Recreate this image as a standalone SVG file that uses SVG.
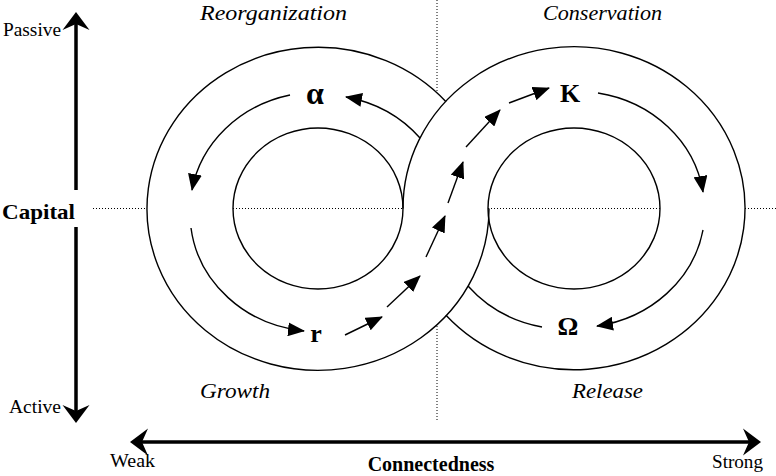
<svg xmlns="http://www.w3.org/2000/svg" width="776" height="476" viewBox="0 0 776 476">
<style>
  .ring { fill: none; stroke: #000; stroke-width: 1.4; }
  .flow { fill: none; stroke: #000; stroke-width: 1.4; marker-end: url(#ah); }
  .dot { fill: none; stroke: #000; stroke-width: 1; stroke-dasharray: 1 2; }
  .axis { fill: none; stroke: #000; stroke-width: 3.5; }
  .head { fill: #000; stroke: none; }
  .t { font-family: "Liberation Serif", "Times New Roman", serif; fill: #000; }
  .reg { font-size: 18px; }
  .ital { font-size: 20px; font-style: italic; }
  .bold { font-weight: bold; }
  .sym { font-family: "Liberation Serif", "DejaVu Serif", serif; font-weight: bold; font-size: 26px; text-anchor: middle; }
</style>
<defs>
  <marker id="ah" markerUnits="userSpaceOnUse" markerWidth="17" markerHeight="14" viewBox="0 0 17 14" refX="16" refY="7" orient="auto">
    <path d="M0,0 L17,7 L0,14 z" fill="#000"/>
  </marker>
  <path id="axhead" d="M0,0 L-18,-13.5 L-12,0 L-18,13.5 z"/>
</defs>
<rect width="776" height="476" fill="#fff"/>

<g id="guides">
  <path class="dot" d="M93,208.5 H147 M233,208.5 H403 M488,208.5 H660 M745,208.5 H776"/>
  <path class="dot" d="M437,0 V93 M437,326 V420"/>
</g>

<g id="loop-left">
  <path class="ring" d="M489,208.5 A171,161.5 0 1 1 446,101.7"/>
  <ellipse class="ring" cx="318" cy="208.5" rx="85" ry="80.5"/>
</g>
<g id="loop-right">
  <path class="ring" d="M403,208.5 A171,161.5 0 1 1 446,315.3"/>
  <ellipse class="ring" cx="574" cy="208.5" rx="86" ry="80.5"/>
</g>

<g id="connectors">
  <path class="flow" d="M420,138 A128,118 0 0 0 346,97"/>
  <path class="flow" d="M290,95 A128,118 0 0 0 192,190"/>
  <path class="flow" d="M191,228 A128,118 0 0 0 304,331"/>
  <path class="flow" d="M345,335 L382,317"/>
  <path class="flow" d="M387,307 L420,276"/>
  <path class="flow" d="M426,257 L445,216"/>
  <path class="flow" d="M448,203 L463,162"/>
  <path class="flow" d="M466,147 L500,110"/>
  <path class="flow" d="M509,103 L549,88"/>
  <path class="flow" d="M598,93 A128,118 0 0 1 703,192"/>
  <path class="flow" d="M703,230 A128,118 0 0 1 597,326"/>
  <path class="ring" d="M542,327 A128,118 0 0 1 468,286"/>
</g>

<g id="phase-symbols">
  <text id="alpha" class="t sym" x="315" y="104" style="font-size:32px">α</text>
  <text id="K" class="t sym" x="570" y="102">K</text>
  <text id="r" class="t sym" x="316" y="342">r</text>
  <text id="omega" class="t sym" x="568" y="335">Ω</text>
</g>

<g id="phase-labels">
  <text class="t ital" x="200" y="20" textLength="147" lengthAdjust="spacingAndGlyphs">Reorganization</text>
  <text class="t ital" x="543" y="20" textLength="119" lengthAdjust="spacingAndGlyphs">Conservation</text>
  <text class="t ital" x="200" y="398" textLength="70" lengthAdjust="spacingAndGlyphs">Growth</text>
  <text class="t ital" x="572" y="398" textLength="71" lengthAdjust="spacingAndGlyphs">Release</text>
</g>

<g id="axis-capital">
  <path class="axis" d="M76,24 V190 M76,227 V411"/>
  <use href="#axhead" class="head" transform="translate(76,12) rotate(-90)"/>
  <use href="#axhead" class="head" transform="translate(76,423) rotate(90)"/>
  <text class="t reg" x="3" y="36" textLength="58" lengthAdjust="spacingAndGlyphs">Passive</text>
  <text class="t reg" x="9" y="413" textLength="52" lengthAdjust="spacingAndGlyphs">Active</text>
  <text class="t bold" x="2" y="219" style="font-size:22px" textLength="73" lengthAdjust="spacingAndGlyphs">Capital</text>
</g>

<g id="axis-connectedness">
  <path class="axis" d="M142,442 H749"/>
  <use href="#axhead" class="head" transform="translate(130,442) rotate(180)"/>
  <use href="#axhead" class="head" transform="translate(761,442)"/>
  <text class="t reg" x="110" y="467" textLength="45" lengthAdjust="spacingAndGlyphs">Weak</text>
  <text class="t reg" x="712" y="468" textLength="51" lengthAdjust="spacingAndGlyphs">Strong</text>
  <text class="t bold" x="431" y="471" style="font-size:20px" text-anchor="middle">Connectedness</text>
</g>
</svg>
